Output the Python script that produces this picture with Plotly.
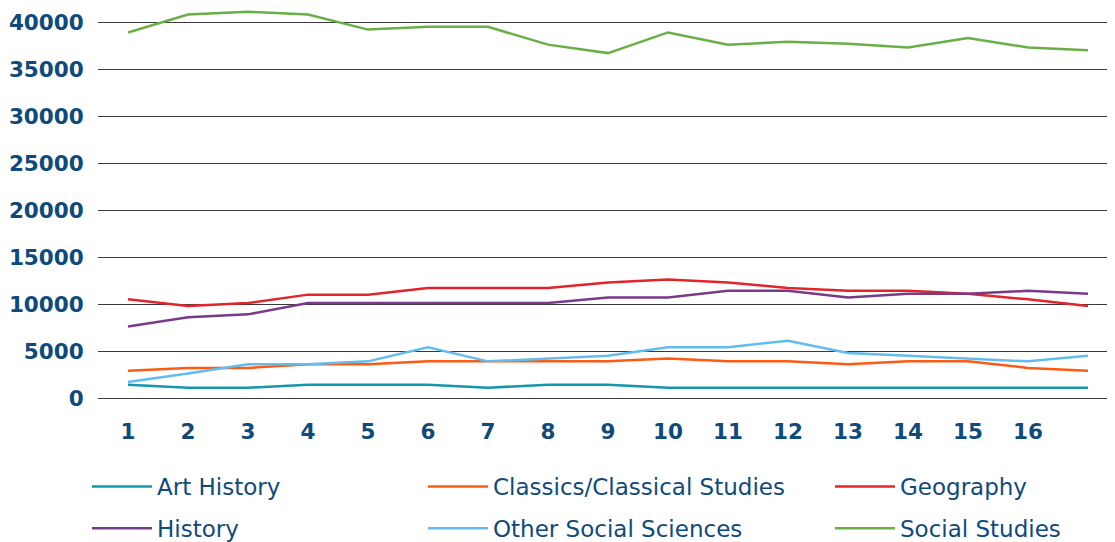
import plotly.graph_objects as go

categories = [str(i) for i in range(1, 18)]
tick_labels = [str(i) for i in range(1, 17)] + [""]

art_history = [1400, 1100, 1100, 1400, 1400, 1400, 1100, 1400, 1400, 1100, 1100, 1100, 1100, 1100, 1100, 1100, 1100]
classics = [2900, 3200, 3200, 3600, 3600, 3900, 3900, 3900, 3900, 4200, 3900, 3900, 3600, 3900, 3900, 3200, 2900]
geography = [10500, 9800, 10100, 11000, 11000, 11700, 11700, 11700, 12300, 12600, 12300, 11700, 11400, 11400, 11100, 10500, 9800]
history = [7600, 8600, 8900, 10100, 10100, 10100, 10100, 10100, 10700, 10700, 11400, 11400, 10700, 11100, 11100, 11400, 11100]
other_social = [1700, 2600, 3600, 3600, 3900, 5400, 3900, 4200, 4500, 5400, 5400, 6100, 4800, 4500, 4200, 3900, 4500]
social_studies = [38900, 40800, 41100, 40800, 39200, 39500, 39500, 37600, 36700, 38900, 37600, 37900, 37700, 37300, 38300, 37300, 37000]

series = [
    ("Art History", art_history, "#1497ad", "legend"),
    ("Classics/Classical Studies", classics, "#fd5a14", "legend2"),
    ("Geography", geography, "#e2242b", "legend3"),
    ("History", history, "#7a3a8a", "legend"),
    ("Other Social Sciences", other_social, "#62bdee", "legend2"),
    ("Social Studies", social_studies, "#6aae46", "legend3"),
]

TEXT = "#0f4a7c"
fig = go.Figure()
for name, vals, color, lg in series:
    fig.add_trace(go.Scatter(
        x=categories, y=vals, name=name, mode="lines",
        line=dict(color=color, width=2.5), legend=lg, legendgroup=name,
        cliponaxis=False,
    ))

leg_common = dict(
    orientation="v", xref="container", yref="container", yanchor="top", xanchor="left",
    font=dict(family="DejaVu Sans", size=23, color=TEXT), itemwidth=60, tracegroupgap=9,
    bgcolor="rgba(0,0,0,0)", borderwidth=0,
)
y_leg = 1 - 457 / 542
fig.update_layout(
    width=1115, height=542,
    margin=dict(l=90, r=8, t=0, b=152, autoexpand=False),
    paper_bgcolor="white", plot_bgcolor="white",
    showlegend=True,
    legend=dict(x=79 / 1115, y=y_leg, **leg_common),
    legend2=dict(x=415 / 1115, y=y_leg, **leg_common),
    legend3=dict(x=822 / 1115, y=y_leg, **leg_common),
    xaxis=dict(
        type="category", range=[-0.5, 16.45],
        tickmode="array", tickvals=categories, ticktext=tick_labels,
        showgrid=False, showline=False, zeroline=False,
        ticks="outside", ticklen=14, tickcolor="rgba(0,0,0,0)",
        ticklabeloverflow="allow",
        tickfont=dict(family="DejaVu Sans", size=21.5, color=TEXT, weight="bold"),
    ),
    yaxis=dict(
        range=[0, 41500], tickmode="array",
        tickvals=[0, 5000, 10000, 15000, 20000, 25000, 30000, 35000, 40000],
        ticktext=["0", "5000", "10000", "15000", "20000", "25000", "30000", "35000", "40000"],
        showgrid=True, gridcolor="#3a3a3a", gridwidth=1,
        zeroline=True, zerolinecolor="#3a3a3a", zerolinewidth=1,
        showline=False,
        ticks="outside", ticklen=9, tickcolor="rgba(0,0,0,0)",
        ticklabeloverflow="allow",
        tickfont=dict(family="DejaVu Sans", size=21.5, color=TEXT, weight="bold"),
    ),
)
fig.write_html("out.html")
